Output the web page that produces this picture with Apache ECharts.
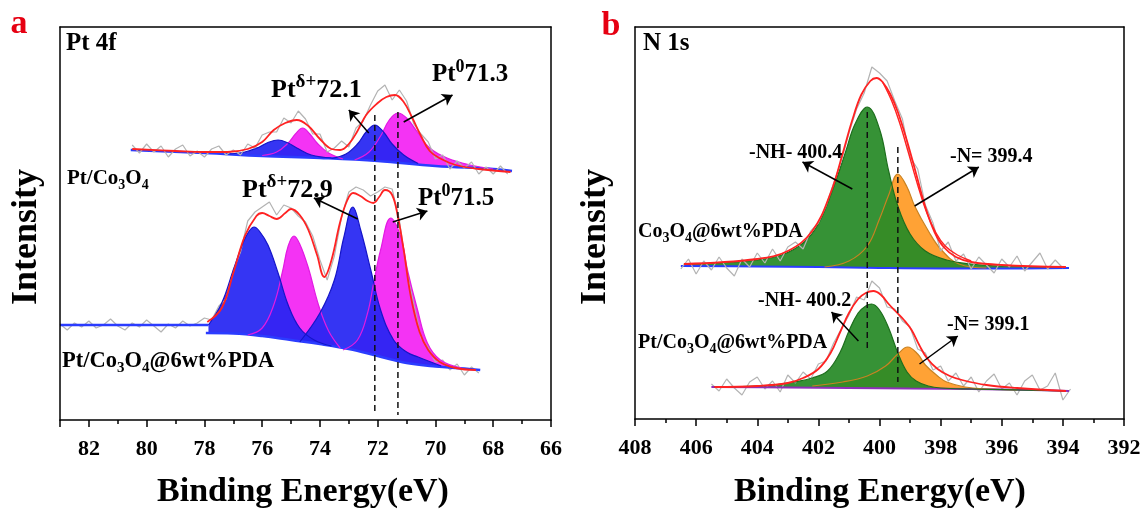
<!DOCTYPE html>
<html>
<head>
<meta charset="utf-8">
<script src="https://cdn.jsdelivr.net/npm/echarts@6/dist/echarts.min.js"></script>
<style>
html, body { margin: 0; padding: 0; background: #fff; }
#chart { width: 1143px; height: 510px; }
</style>
</head>
<body>
<div id="chart"></div>
<script>
// ---- panel a : Pt 4f ----
// Pt/Co3O4 (upper trace)
const aTopBaseX = [80.55, 78, 76, 74, 72, 70, 68, 67.35]
const aTopBaseY = [270, 267, 264, 262, 259, 254, 251, 249]
const aTopPd1X = [77.2, 76.6, 76.1, 75.8, 75.45, 75.1, 74.8, 74.3, 73.6]
const aTopPd1Y = [266, 268, 273, 277.5, 280, 277, 272, 265, 262]
const aTopP01X = [76.0, 75.5, 75.1, 74.85, 74.6, 74.35, 74.1, 73.7, 73.2]
const aTopP01Y = [264.5, 268, 277, 286, 292, 286, 277, 267, 261]
const aTopPd2X = [73.6, 73.1, 72.7, 72.4, 72.1, 71.8, 71.5, 71.1, 70.6]
const aTopPd2Y = [261.5, 266, 276, 288, 295, 288, 276, 265, 256.5]
const aTopP02X = [72.8, 72.3, 71.9, 71.6, 71.3, 71.0, 70.6, 70.2, 69.6, 68.8, 68.0]
const aTopP02Y = [260, 268, 284, 300, 307, 302, 287, 272, 262, 255, 251]
const aTopFitX = [80.5, 79, 78, 77.2, 76.5, 76.0, 75.6, 75.2, 74.8, 74.4, 74.0, 73.6, 73.3, 73.0, 72.7, 72.4, 72.0, 71.7, 71.4, 71.1, 70.8, 70.5, 70.2, 69.8, 69.3, 68.5, 67.4]
const aTopFitY = [271, 269, 268, 268, 271, 278, 290, 297, 300, 294, 281, 271, 270, 276, 289, 305, 317, 323, 325, 318, 302, 284, 269, 261, 255, 251, 248]
const aTopRawX = [80.5, 80.25, 80, 79.75, 79.5, 79.25, 79, 78.75, 78.5, 78.25, 78, 77.75, 77.5, 77.25, 77, 76.75, 76.5, 76.25, 76, 75.75, 75.5, 75.25, 75, 74.75, 74.5, 74.25, 74, 73.75, 73.5, 73.25, 73, 72.75, 72.5, 72.25, 72, 71.75, 71.5, 71.25, 71, 70.75, 70.5, 70.25, 70, 69.75, 69.5, 69.25, 69, 68.75, 68.5, 68.25, 68, 67.75, 67.5]
const aTopRawY = [275, 267, 276, 268, 274, 263, 271, 275, 264, 269, 263, 271, 274, 265, 270, 265, 276, 272, 285, 288, 288, 302, 297, 309, 301, 286, 286, 268, 272, 279, 273, 292, 299, 315, 329, 335, 320, 330, 319, 296, 286, 278, 261, 265, 251, 259, 252, 258, 246, 253, 246, 254, 246]

// Pt/Co3O4@6wt%PDA (lower trace)
const aBotFlatX = [83, 77.86]
const aBotFlatY = [95, 95]
const aBotBaseX = [77.95, 77, 76, 75, 74, 73, 72, 71, 70, 69, 68.45]
const aBotBaseY = [87, 86.5, 84, 80, 76, 71, 64, 57, 53.5, 51.5, 50]
const aBotPd1X = [77.86, 77.4, 77.0, 76.65, 76.45, 76.28, 76.1, 75.8, 75.45, 75.1, 74.7, 74.2, 73.6]
const aBotPd1Y = [95, 117, 150, 178, 189, 193, 189, 175, 147, 115, 92, 80, 74]
const aBotP01X = [76.5, 76.0, 75.6, 75.3, 75.1, 74.9, 74.7, 74.4, 74.05, 73.7, 73.3]
const aBotP01Y = [85, 92, 115, 148, 174, 184, 176, 152, 115, 89, 72]
const aBotPd2X = [74.7, 74.0, 73.5, 73.17, 72.86, 72.59, 72.24, 71.9, 71.45, 71.0, 70.6, 69.8]
const aBotPd2Y = [78, 107, 140, 183, 213, 190, 150, 110, 80, 68, 63, 54]
const aBotP02X = [73.2, 72.7, 72.35, 72.14, 71.9, 71.55, 71.2, 70.97, 70.62, 70.28, 69.83, 69.1]
const aBotP02Y = [70, 80, 107, 137, 170, 202, 183, 150, 110, 77, 60, 52]
const aBotFitX = [77.9, 77.4, 77.0, 76.6, 76.2, 76.0, 75.75, 75.5, 75.2, 75.0, 74.7, 74.4, 74.1, 73.85, 73.6, 73.3, 73.05, 72.85, 72.6, 72.35, 72.15, 71.95, 71.75, 71.5, 71.3, 71.1, 70.85, 70.55, 70.25, 69.85, 69.3, 68.6]
const aBotFitY = [98, 112, 147, 184, 204, 207, 204, 201, 207, 211, 205, 190, 165, 143, 160, 198, 220, 227, 224, 219, 217, 223, 230, 225, 203, 170, 123, 88, 70, 58, 52, 50]
const aBotRawX = [83, 82.75, 82.5, 82.25, 82, 81.75, 81.5, 81.25, 81, 80.75, 80.5, 80.25, 80, 79.75, 79.5, 79.25, 79, 78.75, 78.5, 78.25, 78, 77.75, 77.5, 77.25, 77, 76.75, 76.5, 76.25, 76, 75.75, 75.5, 75.25, 75, 74.75, 74.5, 74.25, 74, 73.75, 73.5, 73.25, 73, 72.75, 72.5, 72.25, 72, 71.75, 71.5, 71.25, 71, 70.75, 70.5, 70.25, 70, 69.75, 69.5, 69.25, 69, 68.75, 68.5]
const aBotRawY = [96, 90, 97, 93, 99, 92, 95, 101, 94, 90, 97, 93, 100, 94, 88, 96, 92, 99, 94, 97, 102, 100, 114, 121, 150, 168, 199, 208, 213, 218, 205, 215, 212, 204, 198, 184, 160, 140, 164, 203, 228, 233, 230, 224, 228, 233, 231, 200, 150, 116, 82, 72, 58, 60, 50, 56, 45, 53, 47]

const aDashed = [[72.1, 305, 5], [71.3, 308, 5]]
const aArrows = [[[72.31, 287], [73.0, 310]], [[71.1, 298], [69.41, 325]], [[72.69, 201], [74.21, 222]], [[71.48, 198], [70.28, 209]]]

// ---- panel b : N 1s ----
// Co3O4@6wt%PDA (upper trace)
const bTopBaseX = [406.5, 404, 402, 400, 398, 396, 393.8]
const bTopBaseY = [153, 152.5, 152, 151, 150.5, 150.5, 151]
const bTopNhX = [406.4, 405, 404, 403.2, 402.5, 402.0, 401.5, 401.1, 400.8, 400.4, 400.0, 399.7, 399.4, 399.0, 398.5, 397.8, 397.0, 396.0, 394.0]
const bTopNhY = [155, 156.5, 159, 164, 176, 195, 232, 268, 295, 312, 290, 248, 213, 185, 168, 159, 155, 153, 152]
const bTopNX = [401.8, 401.0, 400.4, 400.0, 399.7, 399.4, 399.1, 398.85, 398.4, 398.0, 397.4, 396.5]
const bTopNY = [152, 158, 173, 200, 224, 245, 232, 213, 188, 170, 155, 151]
const bTopFitX = [406.4, 404, 403, 402.2, 401.6, 401.2, 400.9, 400.6, 400.3, 400.1, 399.9, 399.65, 399.4, 399.1, 398.8, 398.5, 398.2, 397.9, 397.5, 397.0, 396.0, 393.9]
const bTopFitY = [155, 160, 168, 188, 226, 266, 298, 324, 338, 341, 337, 325, 307, 278, 245, 212, 187, 172, 162, 157, 154, 152]
// second red trace seen just right of the envelope's falling edge
const bTopFit2X = [399.9, 399.6, 399.35, 399.05, 398.75, 398.45, 398.15, 397.85, 397.45, 397.0]
const bTopFit2Y = [337, 318, 297, 266, 234, 206, 186, 173, 164, 158]
const bTopRawX = [406.5, 406.25, 406, 405.75, 405.5, 405.25, 405, 404.75, 404.5, 404.25, 404, 403.75, 403.5, 403.25, 403, 402.75, 402.5, 402.25, 402, 401.75, 401.5, 401.25, 401, 400.75, 400.5, 400.25, 400, 399.75, 399.5, 399.25, 399, 398.75, 398.5, 398.25, 398, 397.75, 397.5, 397.25, 397, 396.75, 396.5, 396.25, 396, 395.75, 395.5, 395.25, 395, 394.75, 394.5, 394.25, 394]
const bTopRawY = [150, 160, 145, 158, 149, 162, 151, 143, 160, 152, 166, 156, 170, 158, 172, 177, 170, 188, 196, 213, 236, 258, 286, 310, 326, 352, 346, 338, 318, 300, 262, 250, 214, 196, 168, 177, 158, 165, 150, 162, 154, 146, 160, 152, 163, 148, 157, 166, 150, 159, 151]

// Pt/Co3O4@6wt%PDA (lower trace)
const bBotBaseX = [405.5, 403, 401, 399, 397, 395, 393.8]
const bBotBaseY = [32, 31.5, 31, 30.5, 30, 29, 28]
const bBotNhX = [405.4, 404.5, 403.5, 402.8, 402.2, 401.7, 401.3, 401.0, 400.7, 400.45, 400.26, 400.0, 399.7, 399.4, 399.1, 398.8, 398.4, 398.0, 397.0, 393.9]
const bBotNhY = [32, 32.5, 34, 37, 41, 48, 66, 88, 106, 113, 115, 109, 91, 66, 47, 38, 33, 31, 30, 28]
const bBotNX = [402.2, 401.2, 400.4, 399.8, 399.4, 399.08, 398.75, 398.5, 398.1, 397.8, 397.2, 396.5, 395.5]
const bBotNY = [33, 37, 43, 53, 65, 72, 65, 54, 43, 37, 32, 30, 29]
const bBotFitX = [405.4, 404, 403, 402.5, 402.0, 401.6, 401.3, 401.0, 400.7, 400.45, 400.2, 399.95, 399.7, 399.45, 399.2, 398.95, 398.7, 398.45, 398.1, 397.7, 397.3, 396.5, 395.5, 393.9]
const bBotFitY = [32, 33, 36, 41, 50, 66, 86, 106, 120, 126, 128, 124, 115, 107, 99, 89, 74, 61, 50, 43, 39, 34, 31, 28]
const bBotRawX = [405.5, 405.25, 405, 404.75, 404.5, 404.25, 404, 403.75, 403.5, 403.25, 403, 402.75, 402.5, 402.25, 402, 401.75, 401.5, 401.25, 401, 400.75, 400.5, 400.25, 400, 399.75, 399.5, 399.25, 399, 398.75, 398.5, 398.25, 398, 397.75, 397.5, 397.25, 397, 396.75, 396.5, 396.25, 396, 395.75, 395.5, 395.25, 395, 394.75, 394.5, 394.25, 394, 393.75]
const bBotRawY = [35, 28, 40, 31, 24, 37, 42, 30, 38, 27, 44, 36, 47, 40, 55, 58, 76, 90, 104, 122, 119, 138, 131, 112, 110, 98, 92, 70, 66, 49, 53, 38, 46, 33, 42, 27, 38, 45, 30, 36, 24, 38, 44, 29, 33, 46, 19, 30]

const bDashed = [[400.4, 307, 68], [399.4, 272, 37]]
const bArrows = [[[400.89, 230], [402.52, 257]], [[398.85, 213], [396.75, 252]], [[400.69, 78], [401.57, 107]], [[398.69, 55], [397.44, 83]]]

const F = "'Liberation Serif', 'Times New Roman', serif"
const BLUE = '#2424f2'
const MAG = '#f433f4'
const GREEN = '#278a27'
const ORANGE = '#ffa235'
const RED = '#ff2222'
const GRAY = '#b3b3b3'

const pairs = (xs, ys) => xs.map((x, i) => [x, ys[i]])

// filled component, drawn down to the axis and then covered below the background line
const fill = (g, xs, ys, color, opacity) => ({
  type: 'line', xAxisIndex: g * 3, yAxisIndex: g * 2, data: pairs(xs, ys),
  smooth: 0.4, symbol: 'none', silent: true,
  lineStyle: { width: 0 },
  areaStyle: { color: color, opacity: opacity || 1 }
})
const line = (g, xs, ys, color, width, smooth) => ({
  type: 'line', xAxisIndex: g * 3, yAxisIndex: g * 2, data: pairs(xs, ys),
  smooth: smooth === undefined ? 0.4 : smooth, symbol: 'none', silent: true,
  lineStyle: { color: color, width: width }
})
const dashed = (g, d, arrows) => {
  const s = {
    type: 'line', xAxisIndex: g * 3, yAxisIndex: g * 2, data: [[d[0], d[1]], [d[0], d[2]]],
    symbol: 'none', silent: true, z: 5,
    lineStyle: { color: '#111', width: 1.5, type: [6, 4] }
  }
  if (arrows) {
    s.markLine = {
      silent: true, symbol: ['none', 'arrow'], symbolSize: 10,
      label: { show: false },
      lineStyle: { type: 'solid', color: '#000', width: 1.5 },
      data: arrows.map(a => [{ coord: a[0] }, { coord: a[1] }])
    }
  }
  return s
}

const AX = { color: '#000', width: 1.5 }
const xAxes = (g, min, max) => {
  const base = { gridIndex: g, type: 'value', min: min, max: max, inverse: true, splitLine: { show: false }, z: 10 }
  return [
    Object.assign({}, base, {
      position: 'bottom', interval: 1,
      axisLine: { show: true, onZero: false, lineStyle: AX },
      axisTick: { show: true, length: 4, lineStyle: AX },
      axisLabel: {
        show: true, margin: 18, color: '#000', fontFamily: F, fontWeight: 'bold', fontSize: 22,
        formatter: v => (v % 2 === 0 ? String(v) : '')
      }
    }),
    Object.assign({}, base, {
      position: 'bottom', interval: 2,
      axisLine: { show: false },
      axisTick: { show: true, length: 7, lineStyle: AX },
      axisLabel: { show: false }
    }),
    Object.assign({}, base, {
      position: 'top',
      axisLine: { show: true, onZero: false, lineStyle: AX },
      axisTick: { show: false }, axisLabel: { show: false }
    })
  ]
}
const yAxes = (g, max) => ['left', 'right'].map(p => ({
  gridIndex: g, type: 'value', min: 0, max: max, z: 10, position: p,
  axisLine: { show: true, onZero: false, lineStyle: AX },
  axisTick: { show: false }, axisLabel: { show: false }, splitLine: { show: false }
}))

const rich = size => ({
  m: { fontFamily: F, fontWeight: 'bold', fontSize: size, lineHeight: Math.round(size * 1.3) },
  u: { fontFamily: F, fontWeight: 'bold', fontSize: Math.round(size * 0.72), lineHeight: Math.round(size * 0.72), verticalAlign: 'top' },
  d: { fontFamily: F, fontWeight: 'bold', fontSize: Math.round(size * 0.68), lineHeight: Math.round(size * 0.75), verticalAlign: 'bottom' }
})
const text = (x, y, str, size) => ({
  type: 'text', x: x, y: y, z: 100, silent: true,
  style: { text: str, rich: rich(size), fill: '#000', align: 'left', verticalAlign: 'middle' }
})
const plain = (x, y, str, font, color, rot) => ({
  type: 'text', x: x, y: y, z: 100, silent: true, rotation: rot || 0,
  style: { text: str, font: font, fill: color, align: 'center', verticalAlign: 'middle' }
})

const series = [
  // a, upper
  fill(0, aTopP01X, aTopP01Y, MAG), fill(0, aTopP02X, aTopP02Y, MAG),
  fill(0, aTopPd1X, aTopPd1Y, BLUE, 0.92), fill(0, aTopPd2X, aTopPd2Y, BLUE, 0.92),
  fill(0, aTopBaseX, aTopBaseY, '#fff'),
  line(0, aTopBaseX, aTopBaseY, '#2b3cff', 2.5),
  line(0, aTopP01X, aTopP01Y, '#e21be2', 1.2), line(0, aTopP02X, aTopP02Y, '#e21be2', 1.2),
  line(0, aTopPd1X, aTopPd1Y, '#1515c8', 1.2), line(0, aTopPd2X, aTopPd2Y, '#1515c8', 1.2),
  line(0, aTopRawX, aTopRawY, GRAY, 1.2, false),
  line(0, aTopFitX, aTopFitY, RED, 1.8),
  // a, lower
  fill(0, aBotP01X, aBotP01Y, MAG), fill(0, aBotP02X, aBotP02Y, MAG),
  fill(0, aBotPd1X, aBotPd1Y, BLUE, 0.92), fill(0, aBotPd2X, aBotPd2Y, BLUE, 0.92),
  fill(0, aBotBaseX, aBotBaseY, '#fff'),
  line(0, aBotRawX, aBotRawY, GRAY, 1.2, false),
  line(0, aBotFlatX, aBotFlatY, '#2b3cff', 2.5, false),
  line(0, aBotBaseX, aBotBaseY, '#2b3cff', 2.5),
  line(0, aBotP01X, aBotP01Y, '#e21be2', 1.2), line(0, aBotP02X, aBotP02Y, '#e21be2', 1.2),
  line(0, aBotPd1X, aBotPd1Y, '#1515c8', 1.2), line(0, aBotPd2X, aBotPd2Y, '#1515c8', 1.2),
  line(0, aBotFitX, aBotFitY, RED, 1.8),
  dashed(0, aDashed[0], aArrows), dashed(0, aDashed[1]),
  // b, upper
  fill(1, bTopNX, bTopNY, ORANGE), fill(1, bTopNhX, bTopNhY, GREEN, 0.93),
  fill(1, bTopBaseX, bTopBaseY, '#fff'),
  line(1, bTopBaseX, bTopBaseY, '#2b3cff', 2),
  line(1, bTopNX, bTopNY, '#c98222', 1.2), line(1, bTopNhX, bTopNhY, '#1d6e1d', 1.2),
  line(1, bTopRawX, bTopRawY, GRAY, 1.2, false),
  line(1, bTopFit2X, bTopFit2Y, RED, 1.4),
  line(1, bTopFitX, bTopFitY, RED, 1.8),
  // b, lower
  fill(1, bBotNX, bBotNY, ORANGE), fill(1, bBotNhX, bBotNhY, GREEN, 0.93),
  fill(1, bBotBaseX, bBotBaseY, '#fff'),
  line(1, bBotRawX, bBotRawY, GRAY, 1.2, false),
  line(1, bBotBaseX, bBotBaseY, '#8e2fb8', 2),
  line(1, bBotNX, bBotNY, '#c98222', 1.2), line(1, bBotNhX, bBotNhY, '#1d6e1d', 1.2),
  line(1, bBotFitX, bBotFitY, RED, 1.8),
  dashed(1, bDashed[0], bArrows), dashed(1, bDashed[1])
]

const graphics = [
  plain(19, 24, 'a', 'bold 34px ' + F, '#e60012'),
  plain(611, 26, 'b', 'bold 34px ' + F, '#e60012'),
  plain(27, 237, 'Intensity', 'bold 36px ' + F, '#000', Math.PI / 2),
  plain(596, 237, 'Intensity', 'bold 36px ' + F, '#000', Math.PI / 2),
  plain(303, 492, 'Binding Energy(eV)', 'bold 34px ' + F, '#000'),
  plain(880, 492, 'Binding Energy(eV)', 'bold 34px ' + F, '#000'),
  text(66, 44, '{m|Pt 4f}', 25),
  text(643, 44, '{m|N 1s}', 25),
  text(67, 179, '{m|Pt/Co}{d|3}{m|O}{d|4}', 21),
  text(62, 361, '{m|Pt/Co}{d|3}{m|O}{d|4}{m|@6wt%PDA}', 22.5),
  text(271, 90, '{m|Pt}{u|δ+}{m|72.1}', 26),
  text(432, 75, '{m|Pt}{u|0}{m|71.3}', 25),
  text(242, 190, '{m|Pt}{u|δ+}{m|72.9}', 26),
  text(418, 199, '{m|Pt}{u|0}{m|71.5}', 25),
  text(638, 232, '{m|Co}{d|3}{m|O}{d|4}{m|@6wt%PDA}', 20),
  text(638, 343, '{m|Pt/Co}{d|3}{m|O}{d|4}{m|@6wt%PDA}', 20),
  text(749, 153, '{m|-NH- 400.4}', 20),
  text(950, 157, '{m|-N= 399.4}', 20),
  text(758, 301, '{m|-NH- 400.2}', 20),
  text(947, 325, '{m|-N= 399.1}', 20)
]

const myChart = echarts.init(document.getElementById('chart'), null, { renderer: 'canvas' })
const option = {
  animation: false,
  backgroundColor: '#fff',
  grid: [
    { left: 60, top: 27, width: 491, height: 393, outerBoundsMode: 'none' },
    { left: 635, top: 27, width: 489, height: 392, outerBoundsMode: 'none' }
  ],
  xAxis: [...xAxes(0, 66, 83), ...xAxes(1, 392, 408)],
  yAxis: [...yAxes(0, 393), ...yAxes(1, 392)],
  series: series,
  graphic: { elements: graphics }
}
myChart.setOption(option)
</script>
</body>
</html>
